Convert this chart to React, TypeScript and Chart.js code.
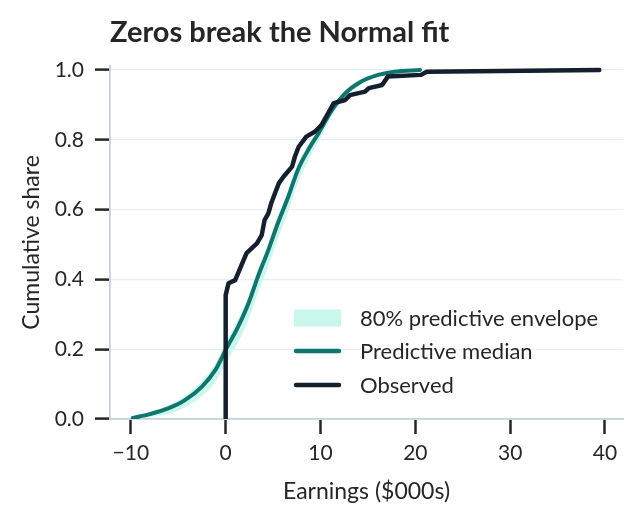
import { useEffect, useRef } from "react";
import { Chart, registerables } from "chart.js";

Chart.register(...registerables);

// predictive median CDF
const MEDIAN_X = [-9.8, -8, -6, -4.3, -2.5, -1.1, 0, 1.3, 2.4, 3.4, 4.5, 5.5, 6.6, 7.6, 8.7, 9.8, 11.2, 12.6, 14.3, 16.1, 17.8, 20.5];
const MEDIAN_Y = [0.003, 0.014, 0.031, 0.054, 0.093, 0.14, 0.198, 0.264, 0.331, 0.408, 0.484, 0.561, 0.637, 0.713, 0.771, 0.819, 0.885, 0.933, 0.967, 0.986, 0.995, 1.0];
// 80% envelope around it (same x grid)
const ENV_UPPER_Y = [0.006, 0.02, 0.04, 0.066, 0.108, 0.158, 0.218, 0.285, 0.352, 0.428, 0.504, 0.58, 0.655, 0.729, 0.785, 0.83, 0.892, 0.938, 0.97, 0.988, 0.996, 1.0];
const ENV_LOWER_Y = [0.0, 0.005, 0.015, 0.034, 0.066, 0.106, 0.16, 0.22, 0.285, 0.362, 0.438, 0.516, 0.595, 0.676, 0.741, 0.796, 0.868, 0.922, 0.96, 0.982, 0.993, 1.0];

// observed empirical CDF (pile of zeros at x = 0)
const OBSERVED_X = [0, 0, 0.3, 1.0, 1.3, 2.2, 3.3, 3.8, 4.1, 4.5, 4.8, 5.2, 5.6, 6.1, 7.0, 7.3, 7.7, 8.5, 9.4, 10.1, 10.8, 11.4, 12.6, 13.1, 14.7, 15.1, 16.5, 17.1, 20.6, 21.2, 39.4];
const OBSERVED_Y = [0, 0.355, 0.389, 0.398, 0.417, 0.475, 0.503, 0.527, 0.57, 0.589, 0.618, 0.647, 0.675, 0.694, 0.723, 0.752, 0.78, 0.809, 0.823, 0.842, 0.876, 0.905, 0.914, 0.928, 0.938, 0.948, 0.957, 0.981, 0.986, 0.995, 1.0];

const X_TICKS = [-10, 0, 10, 20, 30, 40];
const Y_TICKS = [0, 0.2, 0.4, 0.6, 0.8, 1.0];
const LEGEND_LABELS = ["80% predictive envelope", "Predictive median", "Observed"];

const FONT = "Lato, 'Noto Sans', sans-serif";
const INK = "#262626";
const SPINE = "#c5d0de";
const ENVELOPE = "#c9f7ec";
const MEDIAN = "#0f766e";
const OBSERVED = "#15202f";

const pts = (xs: number[], ys: number[]) => xs.map((x, i) => ({ x, y: ys[i] }));

// legend sits inside the plot, bottom right
const insideLegend = {
  id: "insideLegend",
  afterDraw(chart: any) {
    const { ctx, chartArea } = chart;
    const x0 = chartArea.right - 329;
    const rows = [chartArea.bottom - 101, chartArea.bottom - 68, chartArea.bottom - 34];
    ctx.save();
    ctx.fillStyle = ENVELOPE;
    ctx.fillRect(x0, rows[0] - 8.5, 47, 17);
    [MEDIAN, OBSERVED].forEach((c, i) => {
      ctx.strokeStyle = c;
      ctx.lineWidth = 4.5;
      ctx.lineCap = "round";
      ctx.beginPath();
      ctx.moveTo(x0 + 2, rows[i + 1]);
      ctx.lineTo(x0 + 45, rows[i + 1]);
      ctx.stroke();
    });
    ctx.fillStyle = INK;
    ctx.font = `22px ${FONT}`;
    ctx.textBaseline = "middle";
    LEGEND_LABELS.forEach((t, i) => ctx.fillText(t, x0 + 66, rows[i] + 1));
    ctx.restore();
  },
};

export default function App() {
  const canvasRef = useRef<HTMLCanvasElement>(null);
  const chartRef = useRef<Chart | null>(null);

  useEffect(() => {
    if (!canvasRef.current) return;
    if (chartRef.current) chartRef.current.destroy();

    chartRef.current = new Chart(canvasRef.current, {
      type: "line",
      data: {
        datasets: [
          {
            label: "env-lower",
            data: pts(MEDIAN_X, ENV_LOWER_Y),
            borderWidth: 0,
            pointRadius: 0,
            cubicInterpolationMode: "monotone",
            fill: false,
            order: 3,
          },
          {
            label: LEGEND_LABELS[0],
            data: pts(MEDIAN_X, ENV_UPPER_Y),
            borderWidth: 0,
            pointRadius: 0,
            cubicInterpolationMode: "monotone",
            backgroundColor: ENVELOPE,
            fill: 0,
            order: 2,
          },
          {
            label: LEGEND_LABELS[1],
            data: pts(MEDIAN_X, MEDIAN_Y),
            borderColor: MEDIAN,
            borderWidth: 4,
            pointRadius: 0,
            cubicInterpolationMode: "monotone",
            borderCapStyle: "round",
            fill: false,
            order: 1,
          },
          {
            label: LEGEND_LABELS[2],
            data: pts(OBSERVED_X, OBSERVED_Y),
            borderColor: OBSERVED,
            borderWidth: 4.5,
            pointRadius: 0,
            tension: 0,
            borderCapStyle: "round",
            borderJoinStyle: "round",
            fill: false,
            order: 0,
          },
        ],
      },
      options: {
        animation: false,
        responsive: true,
        maintainAspectRatio: false,
        layout: { padding: { left: 0, right: 20, top: 0, bottom: 0 } },
        plugins: {
          legend: { display: false },
          tooltip: { enabled: false },
          title: {
            display: true,
            text: "Zeros break the Normal fit",
            align: "start",
            fullSize: false,
            color: INK,
            font: { family: FONT, size: 29, weight: "bold" },
            padding: { top: 15, bottom: 16 },
          },
        },
        scales: {
          x: {
            type: "linear",
            min: -12.2,
            max: 41.9,
            afterFit: (s: any) => { s.height = 104; },
            afterBuildTicks: (s: any) => { s.ticks = X_TICKS.map(v => ({ value: v })); },
            border: { color: SPINE, width: 1.8 },
            grid: { drawOnChartArea: false, tickLength: 15, tickColor: INK, tickWidth: 2.5, color: INK },
            ticks: {
              color: INK,
              padding: 7,
              font: { family: FONT, size: 21 },
              callback: (v: any) => String(v).replace("-", "\u2212"),
            },
            title: {
              display: true,
              text: "Earnings ($000s)",
              color: INK,
              font: { family: FONT, size: 23 },
              padding: { top: 0, bottom: 18 },
            },
          },
          y: {
            type: "linear",
            min: 0,
            max: 1.012,
            afterFit: (s: any) => { s.width = 110; },
            afterBuildTicks: (s: any) => { s.ticks = Y_TICKS.map(v => ({ value: v })); },
            border: { color: SPINE, width: 1.8 },
            grid: { color: "#e9eef3", lineWidth: 1.2, tickLength: 15, tickColor: INK, tickWidth: 2.5 },
            ticks: {
              color: INK,
              padding: 11,
              font: { family: FONT, size: 21 },
              callback: (v: any) => Number(v).toFixed(1),
            },
            title: {
              display: true,
              text: "Cumulative share",
              color: INK,
              font: { family: FONT, size: 23 },
              padding: { top: 18, bottom: 0 },
            },
          },
        },
      },
      plugins: [insideLegend],
    });

    return () => { chartRef.current?.destroy(); };
  }, []);

  return (
    <div style={{ position: "absolute", left: 0, top: 0, width: 643, height: 523, background: "#fff" }}>
      <canvas ref={canvasRef} />
    </div>
  );
}
